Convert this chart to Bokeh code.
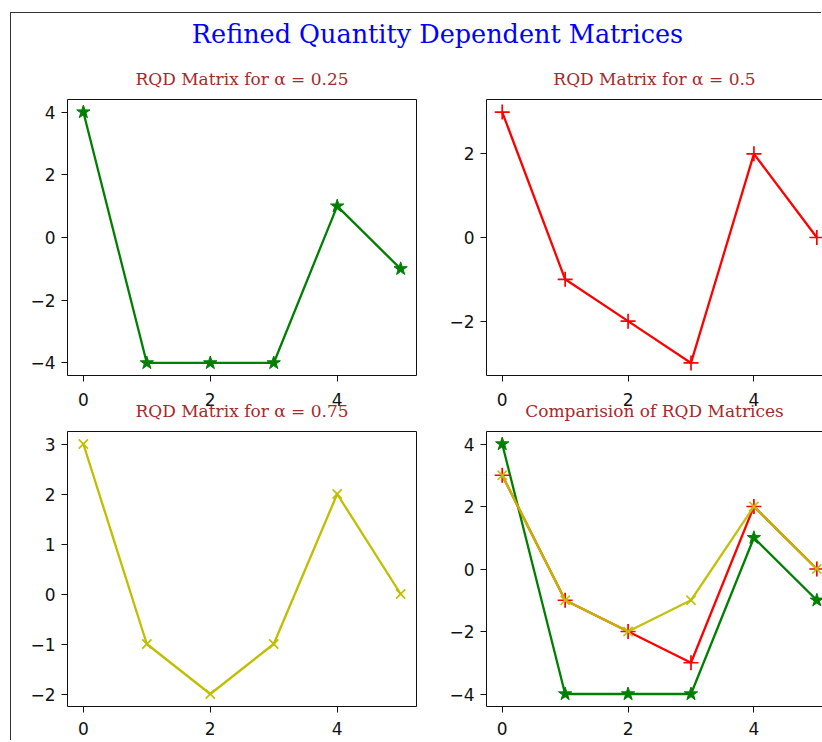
from bokeh.plotting import figure
from bokeh.models import Label, LinearAxis, FixedTicker
from bokeh.layouts import column, row
from bokeh.embed import file_html
from bokeh.resources import INLINE

# ---------------- data ----------------
x_idx = [0, 1, 2, 3, 4, 5]
rqd_025 = [4, -4, -4, -4, 1, -1]
rqd_050 = [3, -1, -2, -3, 2, 0]
rqd_075 = [3, -1, -2, -1, 2, 0]

x_ticks = [0, 2, 4]
y_ticks_025 = [-4, -2, 0, 2, 4]
y_ticks_050 = [-2, 0, 2]
y_ticks_075 = [-2, -1, 0, 1, 2, 3]
y_ticks_cmp = [-4, -2, 0, 2, 4]

main_title = "Refined Quantity Dependent Matrices"
sub_titles = ["RQD Matrix for α = 0.25", "RQD Matrix for α = 0.5",
              "RQD Matrix for α = 0.75", "Comparision of RQD Matrices"]

# ---------------- style ----------------
GREEN = "#008000"
RED = "#ff0000"
YELLOW = "#bfbf00"
TITLE_BLUE = "#0000ff"
SUB_COLOR = "#a52a2a"
TICK_FONT = "DejaVu Sans"
SERIF = "DejaVu Serif"
TICK_SIZE = "17px"
SUB_SIZE = "17px"
LINE_W = 2.3
CROP_X_END = 5.09   # right column is cut off by the page edge


def pad_range(vals, lo=None, hi=None):
    a, b = min(vals), max(vals)
    m = 0.05 * (b - a)
    return (a - m if lo is None else lo, b + m if hi is None else hi)


def edge_axis():
    return LinearAxis(ticker=FixedTicker(ticks=[]), major_label_text_font_size="0px",
                      major_tick_out=0, major_tick_in=0, minor_tick_out=0, minor_tick_in=0,
                      major_label_standoff=0, axis_line_color="#111111")


def make_fig(fw, fh, bl, br, bt, bb, xr, yr, yticks, title, x_standoff, transparent=False):
    p = figure(frame_width=fw, frame_height=fh,
               min_border_left=bl, min_border_right=br,
               min_border_top=bt, min_border_bottom=bb,
               x_range=xr, y_range=yr,
               output_backend="svg", toolbar_location=None,
               background_fill_color="white",
               border_fill_color=None if transparent else "white",
               outline_line_color=None)
    p.title.text = title
    p.title.align = "center"
    p.title.text_font = SERIF
    p.title.text_font_size = SUB_SIZE
    p.title.text_font_style = "normal"
    p.title.text_color = SUB_COLOR
    p.title.standoff = 22
    p.grid.visible = False
    p.xaxis.ticker = FixedTicker(ticks=x_ticks)
    p.yaxis.ticker = FixedTicker(ticks=yticks)
    for ax in (p.xaxis[0], p.yaxis[0]):
        ax.major_label_text_font = TICK_FONT
        ax.major_label_text_font_size = TICK_SIZE
        ax.major_label_text_color = "#111111"
        ax.major_tick_out = 6
        ax.major_tick_in = 0
        ax.minor_tick_out = 0
        ax.minor_tick_in = 0
        ax.major_label_standoff = 6
        ax.axis_line_color = "#111111"
        ax.major_tick_line_color = "#111111"
    p.xaxis.major_label_standoff = x_standoff
    p.add_layout(edge_axis(), "above")   # top edge of the frame
    return p


def draw_series(p, ys, color, marker, size, alpha=1.0):
    p.line(x_idx, ys, line_color=color, line_width=LINE_W, line_alpha=alpha)
    if marker == "star":
        p.scatter(x_idx, ys, marker="star", size=size, fill_color=color,
                  line_color=color, line_width=1, alpha=alpha)
    else:
        p.scatter(x_idx, ys, marker=marker, size=size, line_color=color,
                  line_width=1.7, alpha=alpha)


x_left = pad_range(x_idx)
x_right = (x_left[0], CROP_X_END)
y_025 = pad_range(rqd_025)
y_050 = pad_range(rqd_050)
y_075 = pad_range(rqd_075)
y_cmp = pad_range(rqd_025 + rqd_050 + rqd_075)

LW, LH = 349, 276
RW, BH = 336, 275

# ---------- main title band ----------
head = figure(width=811, height=40, min_border=0, x_range=(0, 1), y_range=(0, 1),
              x_axis_type=None, y_axis_type=None, output_backend="svg",
              toolbar_location=None, outline_line_color=None,
              border_fill_color="white", background_fill_color="white")
head.add_layout(Label(x=(437 - 11) / 811, y=0.5, text=main_title,
                      text_font=SERIF, text_font_size="25.5px", text_color=TITLE_BLUE,
                      text_align="center", text_baseline="middle"))

# ---------- top row ----------
p1 = make_fig(LW, LH, 56, 24, 46, 37, x_left, y_025, y_ticks_025, sub_titles[0], 11)
p1.add_layout(edge_axis(), "right")
draw_series(p1, rqd_025, GREEN, "star", 14)

p2 = make_fig(RW, LH, 46, 0, 46, 37, x_right, y_050, y_ticks_050, sub_titles[1], 11)
draw_series(p2, rqd_050, RED, "cross", 15)

# ---------- bottom row (its title band overlaps the upper tick labels) ----------
p3 = make_fig(LW, BH, 56, 24, 46, 35, x_left, y_075, y_ticks_075, sub_titles[2], 9,
              transparent=True)
p3.add_layout(edge_axis(), "right")
draw_series(p3, rqd_075, YELLOW, "x", 13)

p4 = make_fig(RW, BH, 46, 0, 46, 35, x_right, y_cmp, y_ticks_cmp, sub_titles[3], 9,
              transparent=True)
draw_series(p4, rqd_025, GREEN, "star", 14)
draw_series(p4, rqd_050, RED, "cross", 15)
draw_series(p4, rqd_075, YELLOW, "x", 13, alpha=0.95)

top_row = row(p1, p2)
bottom_row = row(p3, p4, margin=(-27, 0, 0, 0))

layout = column(head, top_row, bottom_row, margin=(13, 0, 0, 11),
                styles={"box-shadow": "-1px -1px 0 0 #333333"})

open("out.html", "w").write(file_html(layout, INLINE))
